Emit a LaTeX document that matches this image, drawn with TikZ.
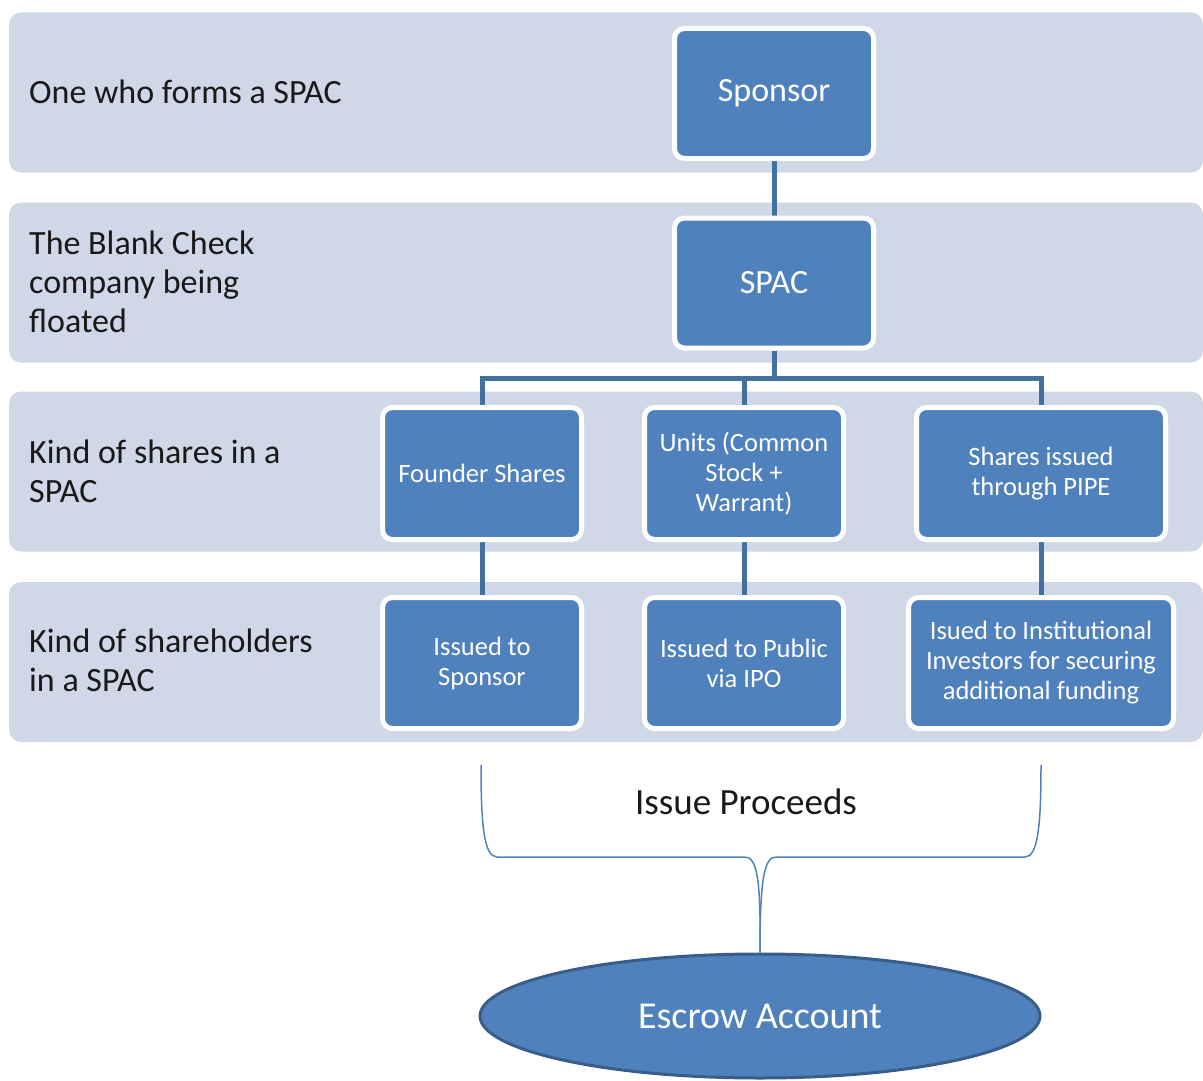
\documentclass[tikz,border=0pt]{standalone}
\usepackage{fontspec}
\setmainfont{Carlito}
\usetikzlibrary{shapes.geometric}
\definecolor{band}{HTML}{D0D8E8}
\definecolor{boxblue}{HTML}{4F81BD}
\definecolor{linkblue}{HTML}{41719C}
\definecolor{ellborder}{HTML}{385D8A}
\pgfdeclarelayer{bg}\pgfdeclarelayer{mid}\pgfsetlayers{bg,mid,main}
\begin{document}
\begin{tikzpicture}[x=1pt,y=-1pt,
 bandbox/.style={rectangle, rounded corners=12pt, fill=band, minimum width=1194pt, minimum height=160pt, inner sep=0pt},
 lbl/.style={anchor=west, align=left, text=black!90, font=\fontsize{34}{39}\selectfont, inner sep=0pt},
 topbox/.style={rectangle, rounded corners=10pt, fill=boxblue, draw=white, line width=5pt, minimum width=199pt, minimum height=130pt, text=white, font=\fontsize{34}{39}\selectfont, align=center, inner sep=2pt},
 subbox/.style={topbox, minimum height=132pt, font=\fontsize{26.5}{30}\selectfont},
 link/.style={draw=linkblue, line width=5pt},
 bracel/.style={draw=boxblue, line width=1.5pt},
 ell/.style={ellipse, fill=boxblue, draw=ellborder, line width=3pt, minimum width=560pt, minimum height=124pt, text=white, font=\fontsize{38}{44}\selectfont}]
\useasboundingbox (0,0) rectangle (1203,1081);
\begin{pgfonlayer}{bg}
\node[bandbox] (b1) at (606,92.5) {};
\node[bandbox] (b2) at (606,282.5) {};
\node[bandbox] (b3) at (606,471.5) {};
\node[bandbox] (b4) at (606,662) {};
\end{pgfonlayer}
\node[lbl] (l1) at (29,92) {One who forms a SPAC};
\node[lbl] (l2) at (29,282) {The Blank Check\\company being\\floated};
\node[lbl] (l3) at (29,471) {Kind of shares in a\\SPAC};
\node[lbl] (l4) at (29,660) {Kind of shareholders\\in a SPAC};
\node[topbox] (sponsor) at (774,93.5) {Sponsor};
\node[topbox] (spac) at (774,283) {SPAC};
\node[subbox] (founder) at (482,473.5) {Founder Shares};
\node[subbox] (units) at (744,473.5) {Units (Common\\Stock +\\Warrant)};
\node[subbox, minimum width=249pt] (pipe) at (1041,473.5) {Shares issued\\through PIPE};
\node[subbox, minimum height=131pt] (isp) at (482,663) {Issued to\\Sponsor};
\node[subbox, minimum height=131pt] (ipub) at (744,663) {Issued to Public\\via IPO};
\node[subbox, minimum height=131pt, minimum width=265pt] (iinst) at (1041,663) {Isued to Institutional\\Investors for securing\\additional funding};
\coordinate (bar) at (774,378);
\begin{pgfonlayer}{mid}
\draw[link] (sponsor.south) -- (spac.north);
\draw[link] (spac.south) -- (bar);
\draw[link] (founder.north) |- (bar) -| (pipe.north);
\draw[link] (units.north) -- (units.north |- bar);
\draw[link] (founder.south) -- (isp.north);
\draw[link] (units.south) -- (ipub.north);
\draw[link] (pipe.south) -- (iinst.north);
\end{pgfonlayer}
\node[ell] (escrow) at (760,1016) {Escrow Account};
\node[font=\fontsize{37}{44}\selectfont, text=black!90] (proceeds) at (746,802) {Issue Proceeds};
\coordinate (bl) at (481,765);
\coordinate (br) at (1041,765);
\draw[bracel] (bl) .. controls (481,825) and (484,857) .. (497,857) -- (745,857) .. controls (757,857) and (761,880) .. (escrow.north);
\draw[bracel] (br) .. controls (1041,825) and (1038,857) .. (1025,857) -- (776,857) .. controls (764,857) and (760,880) .. (escrow.north);
\end{tikzpicture}
\end{document}
